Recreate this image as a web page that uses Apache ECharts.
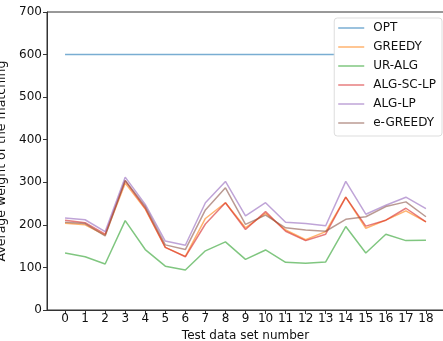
<!DOCTYPE html>
<html><head><meta charset="utf-8">
<script src="https://cdn.jsdelivr.net/npm/echarts@6/dist/echarts.min.js"></script>
<style>html,body{margin:0;padding:0;background:#fff}#c{width:443px;height:341px}</style>
</head><body><div id="c"></div>
<script>
const xTicks = [0,1,2,3,4,5,6,7,8,9,10,11,12,13,14,15,16,17,18];
const yTicks = [0,100,200,300,400,500,600,700];
const seriesNames = ['OPT','GREEDY','UR-ALG','ALG-SC-LP','ALG-LP','e-GREEDY'];
const opt      = [600,600,600,600,600,600,600,600,600,600,600,600,600,600,600,600,600,600,600];
const greedy   = [204,200,176,298,237,147,126,215,252,193,227,188,165,184,265,192,211,233,207];
const urAlg    = [134,125,108,210,142,103,94,139,160,119,141,112,110,113,196,134,178,163,164];
const algScLp  = [211,205,178,304,239,147,125,202,252,189,231,185,163,178,265,197,211,239,207];
const algLp    = [216,212,184,312,248,162,152,252,302,221,252,206,203,198,302,225,246,265,238];
const eGreedy  = [206,203,174,304,243,153,142,235,287,201,223,193,188,185,213,219,243,254,219];
const colors = ['#1f77b4','#ff7f0e','#2ca02c','#d62728','#9467bd','#8c564b'];
const values = [opt, greedy, urAlg, algScLp, algLp, eGreedy];

const font = 'DejaVu Sans';
const fs = 12;
const chart = echarts.init(document.getElementById('c'), null, {renderer:'canvas'});
chart.setOption({
  animation:false,
  grid:{left:47, right:-1, top:12, bottom:31, show:true, borderColor:'#333', borderWidth:1,
    outerBoundsMode:'none', containLabel:false},
  xAxis:{type:'value', min:-0.9, max:18.9,
    name:'Test data set number', nameLocation:'middle', nameGap:20,
    nameTextStyle:{fontFamily:font, fontSize:fs, color:'#111'},
    axisLine:{show:true, onZero:false, lineStyle:{color:'#333'}},
    axisTick:{show:true, length:4, customValues:xTicks, lineStyle:{color:'#333'}},
    axisLabel:{customValues:xTicks, fontFamily:font, fontSize:fs, color:'#111', margin:3},
    splitLine:{show:false}},
  yAxis:{type:'value', min:0, max:700, interval:100,
    name:'Average weight of the matching', nameLocation:'middle', nameGap:29,
    nameTextStyle:{fontFamily:font, fontSize:12.5, color:'#111'},
    axisLine:{show:true, onZero:false, lineStyle:{color:'#333'}},
    axisTick:{show:true, length:4, lineStyle:{color:'#333'}},
    axisLabel:{customValues:yTicks, fontFamily:font, fontSize:fs, color:'#111', margin:5},
    splitLine:{show:false}},
  legend:{right:1, top:18, orient:'vertical', itemWidth:26, itemHeight:1.5, itemGap:7, icon:'rect',
    backgroundColor:'#fff', borderColor:'#ddd', borderWidth:1, borderRadius:3, padding:[4,6,7,4],
    textStyle:{fontFamily:font, fontSize:12, color:'#111', padding:[0,0,0,4]},
    data:seriesNames},
  series: seriesNames.map((n,k)=>({
    name:n, type:'line', symbol:'none', color:colors[k],
    lineStyle:{width:1.5, opacity:0.6},
    itemStyle:{opacity:0.6},
    data: values[k].map((v,i)=>[xTicks[i], v])
  }))
});
</script></body></html>
